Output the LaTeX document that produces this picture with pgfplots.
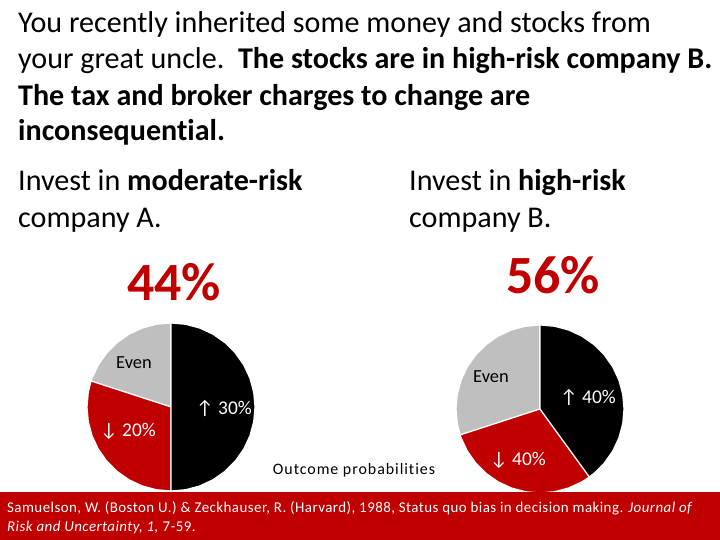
\documentclass[border=0pt]{standalone}
\usepackage{pgfplots}
\pgfplotsset{compat=1.18}
\usepackage{fontspec}
\setmainfont{Carlito}[Ligatures=NoCommon]

\definecolor{slidered}{HTML}{C00000}
\definecolor{piegray}{HTML}{BFBFBF}

\pgfplotsset{
  pie/.style={x=84bp, y=84bp, xmin=-1, xmax=1, ymin=-1, ymax=1,
    hide axis, clip=false, anchor=origin},
  wedge/.style={data cs=polar, draw=white, line width=1.2bp},
}

\begin{document}
\begin{tikzpicture}[x=1bp, y=1bp]
\useasboundingbox (0,0) rectangle (720,540);
\fill[white] (0,0) rectangle (720,540);

% question text
\begin{scope}[every node/.style={anchor=base west, inner sep=0pt,
    font=\fontsize{30.2}{36}\selectfont}]
\node at (18,540-33) {You recently inherited some money and stocks from};
\node at (18,540-69) {your great uncle.\ \ \textbf{The stocks are in high-risk company B.}};
\node at (18,540-106) {\textbf{The tax and broker charges to change are}};
\node at (18,540-141) {\textbf{inconsequential.}};
\node at (18,540-191) {Invest in \textbf{moderate-risk}};
\node at (18,540-228) {company A.};
\node at (409,540-191) {Invest in \textbf{high-risk}};
\node at (409,540-228) {company B.};
\end{scope}

% share of choices
\node[anchor=base, inner sep=0pt, text=slidered,
  font=\fontsize{54}{60}\selectfont\bfseries] at (174,540-301) {44\%};
\node[anchor=base, inner sep=0pt, text=slidered,
  font=\fontsize{54}{60}\selectfont\bfseries] at (553,540-294) {56\%};

% company A: up 30% (50%), down 20% (30%), even (20%)
\begin{axis}[pie, at={(171bp,133bp)}]
\addplot[wedge, fill=piegray] coordinates {
  (0,0) (90,1) (100,1) (110,1) (120,1) (130,1) (140,1) (150,1) (160,1) (162,1) (0,0)};
\addplot[wedge, fill=slidered] coordinates {
  (0,0) (162,1) (170,1) (180,1) (190,1) (200,1) (210,1) (220,1) (230,1) (240,1)
  (250,1) (260,1) (270,1) (0,0)};
\addplot[wedge, fill=black] coordinates {
  (0,0) (-90,1) (-80,1) (-70,1) (-60,1) (-50,1) (-40,1) (-30,1) (-20,1) (-10,1)
  (0,1) (10,1) (20,1) (30,1) (40,1) (50,1) (60,1) (70,1) (80,1) (90,1) (0,0)};
\end{axis}

% company B: up 40% (40%), down 40% (30%), even (30%)
\begin{axis}[pie, at={(540bp,131bp)}]
\addplot[wedge, fill=piegray] coordinates {
  (0,0) (90,1) (100,1) (110,1) (120,1) (130,1) (140,1) (150,1) (160,1) (170,1)
  (180,1) (190,1) (198,1) (0,0)};
\addplot[wedge, fill=slidered] coordinates {
  (0,0) (198,1) (200,1) (210,1) (220,1) (230,1) (240,1) (250,1) (260,1) (270,1)
  (280,1) (290,1) (300,1) (306,1) (0,0)};
\addplot[wedge, fill=black] coordinates {
  (0,0) (-54,1) (-50,1) (-40,1) (-30,1) (-20,1) (-10,1) (0,1) (10,1) (20,1)
  (30,1) (40,1) (50,1) (60,1) (70,1) (80,1) (90,1) (0,0)};
\end{axis}

% slice labels
\begin{scope}[every node/.style={anchor=base, inner sep=0pt,
    font=\fontsize{19.5}{22}\selectfont}]
\node[font=\fontsize{18.5}{22}\selectfont] at (134,540-369) {Even};
\node[text=white] at (224,540-415) {↑ 30\%};
\node[text=white] at (128,540-437) {↓ 20\%};
\node[font=\fontsize{18.5}{22}\selectfont] at (491,540-383) {Even};
\node[text=white] at (588,540-404) {↑ 40\%};
\node[text=white] at (518,540-466) {↓ 40\%};
\end{scope}
\node[anchor=base, inner sep=0pt,
  font=\fontsize{16}{18}\selectfont\addfontfeatures{LetterSpace=6}]
  at (354,540-475) {Outcome probabilities};

% reference bar
\fill[slidered] (0,0) rectangle (720,48);
\begin{scope}[every node/.style={anchor=base west, inner sep=0pt, text=white,
    font=\fontsize{15}{18}\selectfont\addfontfeatures{LetterSpace=3}}]
\node at (7,540-513) {Samuelson, W. (Boston U.) \& Zeckhauser, R. (Harvard), 1988, Status quo bias in decision making. \textit{Journal of}};
\node at (7,540-532) {\textit{Risk and Uncertainty, 1,} 7-59.};
\end{scope}
\end{tikzpicture}
\end{document}
